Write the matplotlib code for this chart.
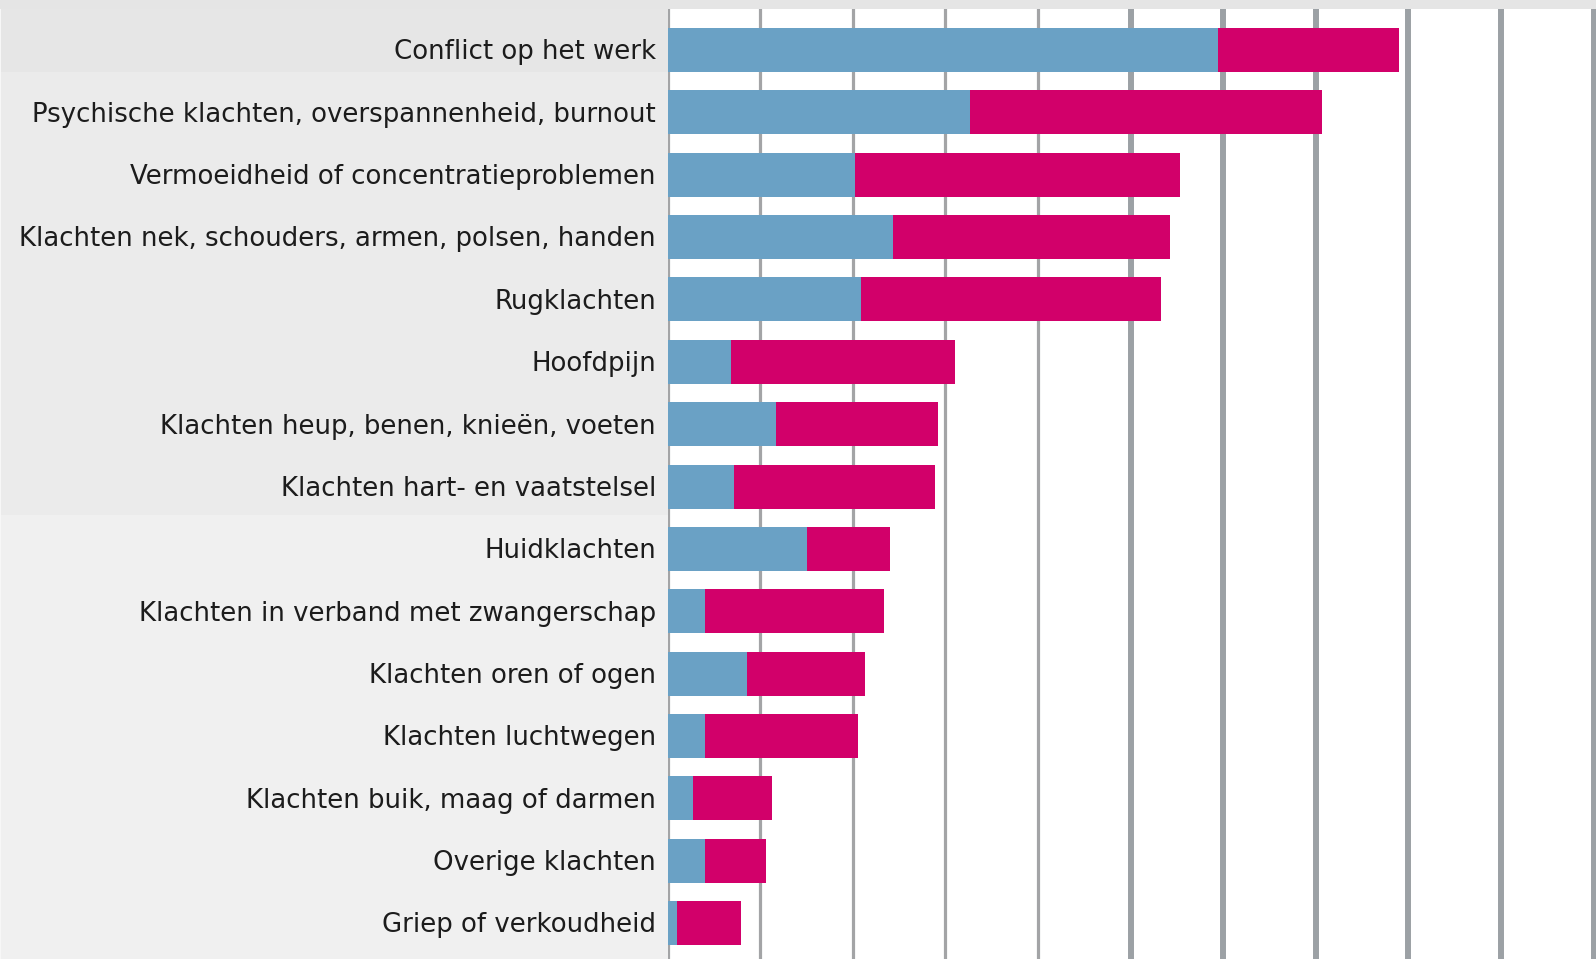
import matplotlib
matplotlib.use("Agg")
import matplotlib.pyplot as plt
from matplotlib.patches import Rectangle
from matplotlib import font_manager

categories = [
    "Conflict op het werk",
    "Psychische klachten, overspannenheid, burnout",
    "Vermoeidheid of concentratieproblemen",
    "Klachten nek, schouders, armen, polsen, handen",
    "Rugklachten",
    "Hoofdpijn",
    "Klachten heup, benen, knieën, voeten",
    "Klachten hart- en vaatstelsel",
    "Huidklachten",
    "Klachten in verband met zwangerschap",
    "Klachten oren of ogen",
    "Klachten luchtwegen",
    "Klachten buik, maag of darmen",
    "Overige klachten",
    "Griep of verkoudheid",
]
blue_values = [5.95, 3.27, 2.03, 2.44, 2.09, 0.69, 1.17, 0.72, 1.51, 0.41, 0.86, 0.41, 0.28, 0.41, 0.10]
totals = [7.90, 7.07, 5.53, 5.43, 5.33, 3.10, 2.92, 2.89, 2.40, 2.34, 2.13, 2.06, 1.13, 1.06, 0.79]
magenta_values = [t - b for t, b in zip(totals, blue_values)]
grid_values = list(range(0, 11))

BLUE = "#6aa1c5"
MAGENTA = "#d2006a"

W, H = 1596, 959
DPI = 100
fig = plt.figure(figsize=(W / DPI, H / DPI), dpi=DPI, facecolor="white")

# background panel
bg = fig.add_axes([0, 0, 1, 1], zorder=-5)
bg.set_xlim(0, W)
bg.set_ylim(H, 0)
bg.axis("off")
x0 = 667.5
bg.add_patch(Rectangle((0, 0), W, 9, color="#e5e5e5", lw=0))
bg.add_patch(Rectangle((0, 9), x0, 63, color="#e6e6e6", lw=0))
bg.add_patch(Rectangle((0, 72), x0, 443, color="#ebebeb", lw=0))
bg.add_patch(Rectangle((0, 515), x0, 444, color="#f0f0f0", lw=0))
bg.add_patch(Rectangle((0, 9), 1.2, 950, color="#f7f7f7", lw=0))

unit = 92.6
row = 62.36
top_px = 9
ax = fig.add_axes([x0 / W, 0, (W - x0) / W, (H - top_px) / H])
ax.patch.set_alpha(0)
xmax = (W - x0) / unit
ax.set_xlim(0, xmax)
ymin = -(50 - top_px) / row
ymax = (H - 50) / row
ax.set_ylim(ymax, ymin)
for s in ax.spines.values():
    s.set_visible(False)
ax.set_xticks([])
ax.set_yticks([])

for g in grid_values:
    if g <= 4:
        ax.axvline(g, color="#a3a4a6", lw=2.3, zorder=0)
    else:
        ax.axvline(g, color="#9ca1a5", lw=4.3, zorder=0)

ypos = list(range(len(categories)))
ax.barh(ypos, blue_values, height=0.705, color=BLUE, lw=0, zorder=2)
ax.barh(ypos, magenta_values, left=blue_values, height=0.705, color=MAGENTA, lw=0, zorder=2)

fam = ["DejaVu Sans"]
fs = 16.0
# calibrate width of the longest label to ~637 px
r = fig.canvas.get_renderer()
t = fig.text(0, 0, categories[3], fontsize=fs, family=fam)
w = t.get_window_extent(r).width
t.remove()
fs = fs * 637.0 / w
fs_px = fs * DPI / 72.0

lx = (656 - x0) / unit
for i, lab in enumerate(categories):
    ax.text(lx, i + 0.36 * fs_px / row * 1.0, lab, ha="right", va="baseline",
            fontsize=fs, family=fam, color="#1c1c1c", clip_on=False)

fig.savefig("out.png", dpi=DPI, facecolor="white")
